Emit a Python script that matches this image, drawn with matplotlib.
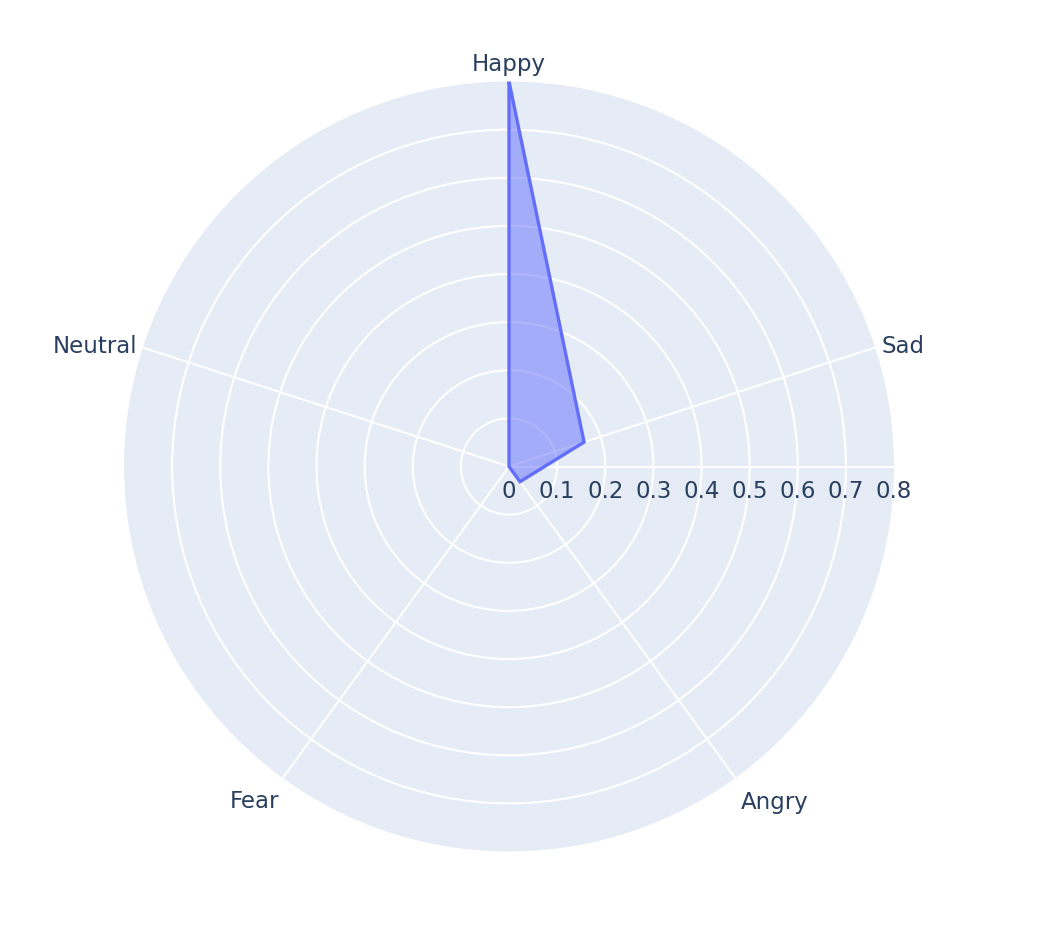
import numpy as np
import matplotlib
matplotlib.use('Agg')
import matplotlib.pyplot as plt

categories = ['Happy', 'Sad', 'Angry', 'Fear', 'Neutral']
values = [0.80, 0.164, 0.039, 0.0, 0.0]
rticks = [0, 0.1, 0.2, 0.3, 0.4, 0.5, 0.6, 0.7, 0.8]
rtick_labels = ['0', '0.1', '0.2', '0.3', '0.4', '0.5', '0.6', '0.7', '0.8']

textc = '#2a3f5f'
linec = '#636efa'
bg = '#e5ecf6'
fs = 16.5

W, H = 1046, 928
fig = plt.figure(figsize=(W/100, H/100), dpi=100)
cx, cy, R = 509, 467.5, 385
ax = fig.add_axes([(cx-R)/W, (H-cy-R)/H, 2*R/W, 2*R/H], projection='polar')
ax.set_theta_zero_location('N')
ax.set_theta_direction(-1)
ax.set_facecolor(bg)
ax.spines['polar'].set_visible(False)
ax.set_axisbelow(True)

theta = np.linspace(0, 2*np.pi, len(categories), endpoint=False)
ax.set_xticks(list(theta) + [np.pi/2])
ax.set_xticklabels([''] * (len(categories) + 1))
ax.set_yticks(rticks[1:-1])
ax.set_yticklabels([])
ax.set_ylim(0, 0.8)
ax.grid(True, color='white', linewidth=1.5)
ax.tick_params(length=0)

# filled trace
t = np.append(theta, theta[0])
v = np.append(values, values[0])
ax.fill(t, v, color=linec, alpha=0.5, linewidth=0)
ax.plot(t, v, color=linec, linewidth=2.4, solid_joinstyle='miter')

# angular labels (offsets in points, alignment per position)
offs = [(0, 8.6), (4.7, -3.2), (4.1, -21.6), (-2.7, -20.9), (-4.3, -3.2)]
has = ['center', 'left', 'left', 'right', 'right']
for th, lab, off, ha in zip(theta, categories, offs, has):
    ax.annotate(lab, xy=(th, 0.8), xytext=off, textcoords='offset points',
                ha=ha, va='baseline', fontsize=fs, color=textc,
                annotation_clip=False)

# radial tick labels along the 0 degree (east) axis
for r, lab in zip(rticks, rtick_labels):
    ax.annotate(lab, xy=(np.pi/2, r), xytext=(0, -21.7), textcoords='offset points',
                ha='center', va='baseline', fontsize=fs, color=textc,
                annotation_clip=False)

fig.savefig('out.png', dpi=100)
